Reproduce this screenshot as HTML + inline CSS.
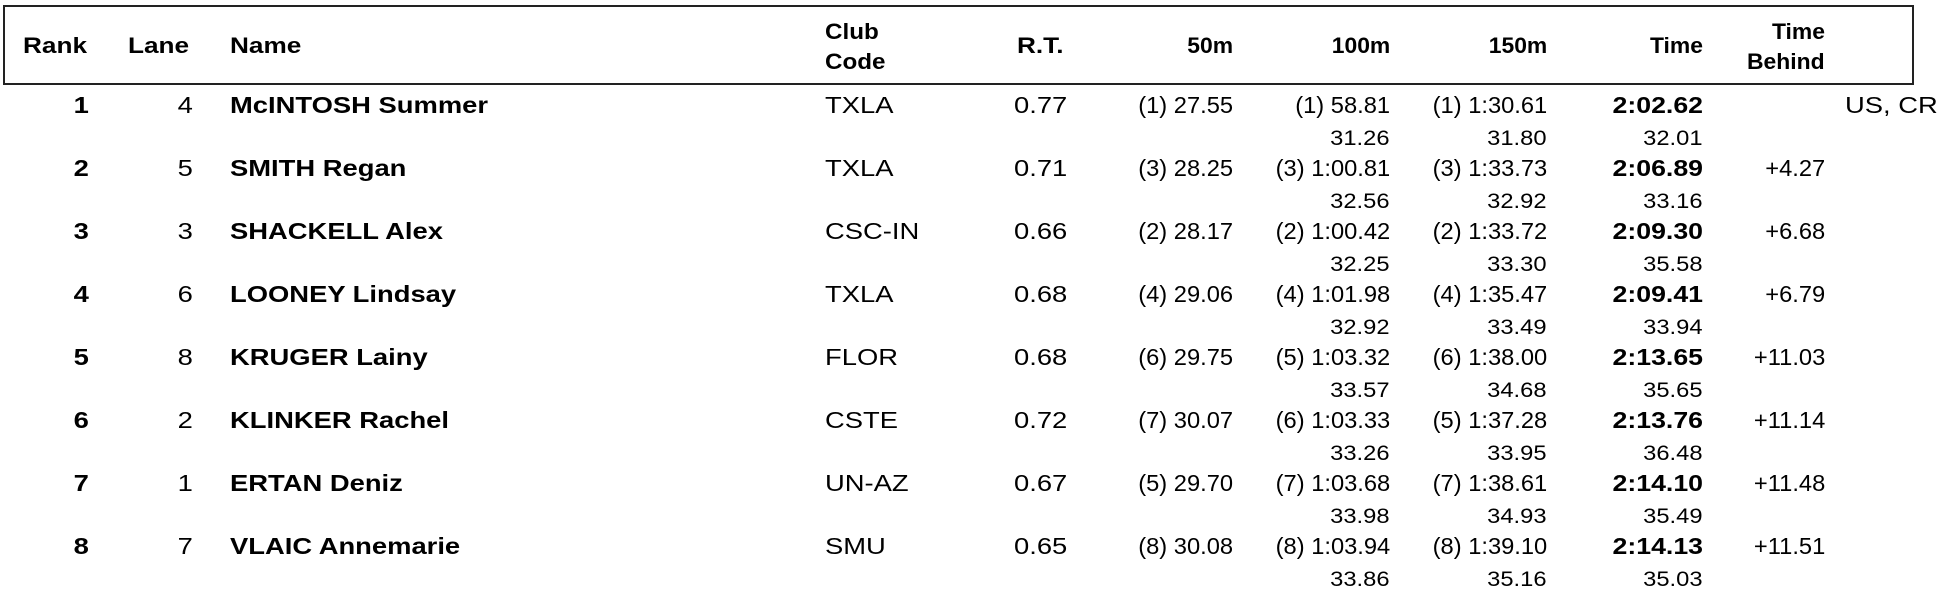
<!DOCTYPE html>
<html><head><meta charset="utf-8"><style>
body{margin:0;width:1951px;height:602px;background:#fff;position:relative;overflow:hidden;font-family:"Liberation Sans",Arial,sans-serif;color:#000}
.box{position:absolute;left:3px;top:5px;width:1907px;height:76px;border:2px solid #222}
.h{position:absolute;font-size:22px;font-weight:bold;line-height:22px;white-space:nowrap;transform:scaleX(1.19);transform-origin:left top}
.h.rt{transform-origin:right top;transform:scaleX(1.04)}
.r{position:absolute;left:0;width:1951px;height:60px}
.r span{position:absolute;top:0;font-size:23px;line-height:23px;white-space:nowrap;transform:scaleX(1.19);transform-origin:left top}
.r span[style*="right"]{transform-origin:right top}
.r span.b{font-weight:bold}
.r span.n{transform:scaleX(1.03)}
.r span.tb{transform:scaleX(1.16)}
.r span.s{top:34px;font-size:21px;line-height:21px;transform:scaleX(1.13)}
</style></head><body>
<div class="box"></div>
<div class="h" style="left:23px;top:35px">Rank</div>
<div class="h" style="left:128px;top:35px">Lane</div>
<div class="h" style="left:230px;top:35px">Name</div>
<div class="h" style="left:825px;top:21px;transform:scaleX(1.1)">Club</div>
<div class="h" style="left:825px;top:51px;transform:scaleX(1.1)">Code</div>
<div class="h" style="left:1017px;top:35px">R.T.</div>
<div class="h rt" style="right:718px;top:35px">50m</div>
<div class="h rt" style="right:561px;top:35px">100m</div>
<div class="h rt" style="right:404px;top:35px">150m</div>
<div class="h rt" style="right:248px;top:35px">Time</div>
<div class="h rt" style="right:126px;top:21px">Time</div>
<div class="h rt" style="right:126px;top:51px">Behind</div>

<div class="r" style="top:93.5px"><span class="b" style="right:1862px">1</span><span style="right:1758px">4</span><span class="b" style="left:230px">McINTOSH Summer</span><span style="left:825px">TXLA</span><span style="left:1014px">0.77</span><span class="n" style="right:718px">(1) 27.55</span><span class="n" style="right:561px">(1) 58.81</span><span class="s" style="right:561px">31.26</span><span class="n" style="right:404px">(1) 1:30.61</span><span class="s" style="right:404px">31.80</span><span class="b tb" style="right:248px">2:02.62</span><span class="s" style="right:248px">32.01</span><span style="left:1845px">US, CR</span></div>

<div class="r" style="top:156.5px"><span class="b" style="right:1862px">2</span><span style="right:1758px">5</span><span class="b" style="left:230px">SMITH Regan</span><span style="left:825px">TXLA</span><span style="left:1014px">0.71</span><span class="n" style="right:718px">(3) 28.25</span><span class="n" style="right:561px">(3) 1:00.81</span><span class="s" style="right:561px">32.56</span><span class="n" style="right:404px">(3) 1:33.73</span><span class="s" style="right:404px">32.92</span><span class="b tb" style="right:248px">2:06.89</span><span class="s" style="right:248px">33.16</span><span class="n" style="right:126px">+4.27</span></div>

<div class="r" style="top:219.5px"><span class="b" style="right:1862px">3</span><span style="right:1758px">3</span><span class="b" style="left:230px">SHACKELL Alex</span><span style="left:825px">CSC-IN</span><span style="left:1014px">0.66</span><span class="n" style="right:718px">(2) 28.17</span><span class="n" style="right:561px">(2) 1:00.42</span><span class="s" style="right:561px">32.25</span><span class="n" style="right:404px">(2) 1:33.72</span><span class="s" style="right:404px">33.30</span><span class="b tb" style="right:248px">2:09.30</span><span class="s" style="right:248px">35.58</span><span class="n" style="right:126px">+6.68</span></div>

<div class="r" style="top:282.5px"><span class="b" style="right:1862px">4</span><span style="right:1758px">6</span><span class="b" style="left:230px">LOONEY Lindsay</span><span style="left:825px">TXLA</span><span style="left:1014px">0.68</span><span class="n" style="right:718px">(4) 29.06</span><span class="n" style="right:561px">(4) 1:01.98</span><span class="s" style="right:561px">32.92</span><span class="n" style="right:404px">(4) 1:35.47</span><span class="s" style="right:404px">33.49</span><span class="b tb" style="right:248px">2:09.41</span><span class="s" style="right:248px">33.94</span><span class="n" style="right:126px">+6.79</span></div>

<div class="r" style="top:345.5px"><span class="b" style="right:1862px">5</span><span style="right:1758px">8</span><span class="b" style="left:230px">KRUGER Lainy</span><span style="left:825px">FLOR</span><span style="left:1014px">0.68</span><span class="n" style="right:718px">(6) 29.75</span><span class="n" style="right:561px">(5) 1:03.32</span><span class="s" style="right:561px">33.57</span><span class="n" style="right:404px">(6) 1:38.00</span><span class="s" style="right:404px">34.68</span><span class="b tb" style="right:248px">2:13.65</span><span class="s" style="right:248px">35.65</span><span class="n" style="right:126px">+11.03</span></div>

<div class="r" style="top:408.5px"><span class="b" style="right:1862px">6</span><span style="right:1758px">2</span><span class="b" style="left:230px">KLINKER Rachel</span><span style="left:825px">CSTE</span><span style="left:1014px">0.72</span><span class="n" style="right:718px">(7) 30.07</span><span class="n" style="right:561px">(6) 1:03.33</span><span class="s" style="right:561px">33.26</span><span class="n" style="right:404px">(5) 1:37.28</span><span class="s" style="right:404px">33.95</span><span class="b tb" style="right:248px">2:13.76</span><span class="s" style="right:248px">36.48</span><span class="n" style="right:126px">+11.14</span></div>

<div class="r" style="top:471.5px"><span class="b" style="right:1862px">7</span><span style="right:1758px">1</span><span class="b" style="left:230px">ERTAN Deniz</span><span style="left:825px">UN-AZ</span><span style="left:1014px">0.67</span><span class="n" style="right:718px">(5) 29.70</span><span class="n" style="right:561px">(7) 1:03.68</span><span class="s" style="right:561px">33.98</span><span class="n" style="right:404px">(7) 1:38.61</span><span class="s" style="right:404px">34.93</span><span class="b tb" style="right:248px">2:14.10</span><span class="s" style="right:248px">35.49</span><span class="n" style="right:126px">+11.48</span></div>

<div class="r" style="top:534.5px"><span class="b" style="right:1862px">8</span><span style="right:1758px">7</span><span class="b" style="left:230px">VLAIC Annemarie</span><span style="left:825px">SMU</span><span style="left:1014px">0.65</span><span class="n" style="right:718px">(8) 30.08</span><span class="n" style="right:561px">(8) 1:03.94</span><span class="s" style="right:561px">33.86</span><span class="n" style="right:404px">(8) 1:39.10</span><span class="s" style="right:404px">35.16</span><span class="b tb" style="right:248px">2:14.13</span><span class="s" style="right:248px">35.03</span><span class="n" style="right:126px">+11.51</span></div>
</body></html>
